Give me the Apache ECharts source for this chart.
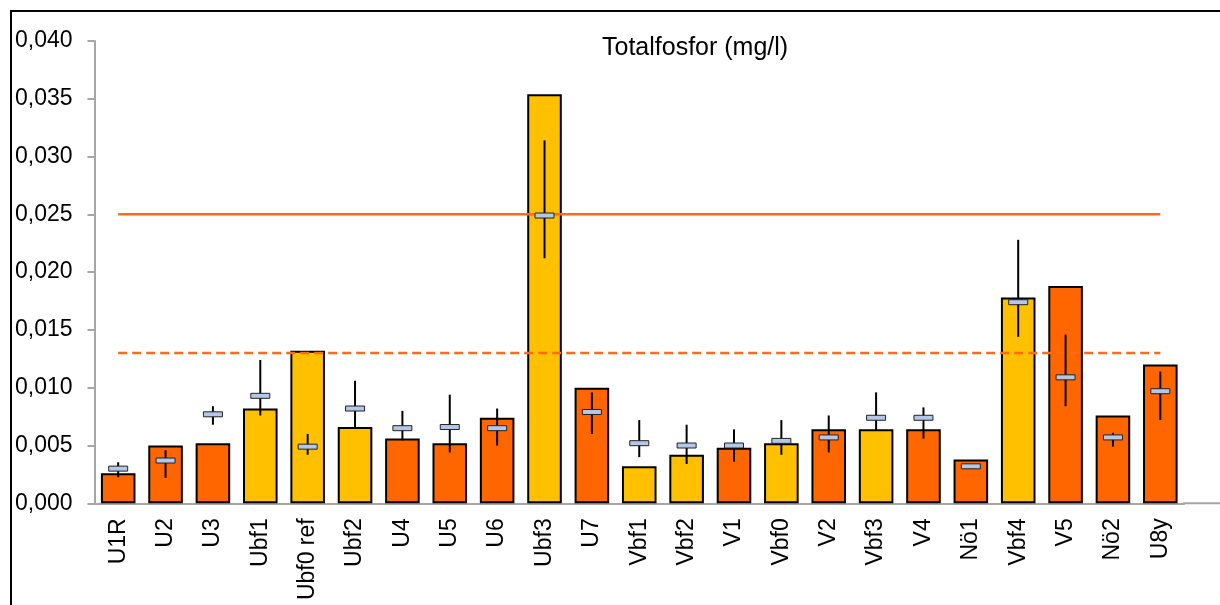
<!DOCTYPE html>
<html>
<head>
<meta charset="utf-8">
<script src="https://cdn.jsdelivr.net/npm/echarts@6/dist/echarts.min.js"></script>
<style>
html,body{margin:0;padding:0;background:#fff;}
#chart{width:1220px;height:605px;}
</style>
</head>
<body>
<div id="chart"></div>
<script>
// ---- data ----
const categories = ['U1R','U2','U3','Ubf1','Ubf0 ref','Ubf2','U4','U5','U6','Ubf3','U7','Vbf1','Vbf2','V1','Vbf0','V2','Vbf3','V4','Nö1','Vbf4','V5','Nö2','U8y'];
const siteGroup  = ['a','a','a','b','b','b','a','a','a','b','a','b','b','a','b','a','b','a','a','b','a','a','a'];
const barValues  = [0.0026,0.0050,0.0052,0.0082,0.0132,0.0066,0.0056,0.0052,0.0074,0.0354,0.0100,0.0032,0.0042,0.0048,0.0052,0.0064,0.0064,0.0064,0.0038,0.0178,0.0188,0.0076,0.0120];
const meanValues = [0.0030,0.0037,0.0077,0.0093,0.0049,0.0082,0.0065,0.0066,0.0065,0.0249,0.0079,0.0052,0.0050,0.0050,0.0054,0.0057,0.0074,0.0074,0.0032,0.0174,0.0109,0.0057,0.0097];
const errLow     = [0.00225,0.0022,0.0068,0.0076,0.0042,0.0065,0.00545,0.0044,0.0050,0.0212,0.0060,0.0040,0.0034,0.0036,0.0042,0.0044,0.0063,0.0056,0.0030,0.0144,0.0084,0.0049,0.0072];
const errHigh    = [0.00355,0.0046,0.0084,0.0124,0.0060,0.0106,0.0080,0.0094,0.0082,0.0314,0.0096,0.0072,0.0068,0.0064,0.0072,0.0076,0.0096,0.0083,0.0034,0.0228,0.0146,0.0061,0.0114];
const limitHigh  = 0.025;
const limitLow   = 0.013;
const yTicks = { min: 0, max: 0.040, interval: 0.005 };
const titleText = 'Totalfosfor (mg/l)';

// ---- styles ----
const groupColors = { a: '#FF6600', b: '#FFC000' };
const FONT = "'Liberation Sans', Arial, sans-serif";
const AXIS_GREY = '#A6A6A6';

const chart = echarts.init(document.getElementById('chart'), null, { renderer: 'canvas' });

const barData = barValues.map((v, i) => ({
  value: v,
  itemStyle: { color: groupColors[siteGroup[i]] }
}));
const errData = meanValues.map((m, i) => [i, m, errLow[i], errHigh[i]]);

const option = {
  animation: false,
  backgroundColor: '#fff',
  title: {
    text: titleText,
    left: 597, top: 31,
    textStyle: { fontFamily: FONT, fontSize: 25, fontWeight: 'normal', color: '#000' }
  },
  grid: { left: 94.5, right: 36, top: 41, bottom: 101.7 },
  xAxis: {
    type: 'category',
    data: categories,
    boundaryGap: true,
    axisLine: { lineStyle: { color: AXIS_GREY, width: 2 } },
    axisTick: { show: false },
    axisLabel: { rotate: 90, margin: 15, fontFamily: FONT, fontSize: 23, color: '#000', interval: 0 }
  },
  yAxis: {
    type: 'value',
    min: yTicks.min, max: yTicks.max, interval: yTicks.interval,
    splitLine: { show: false },
    axisLine: { show: true, lineStyle: { color: AXIS_GREY, width: 2 } },
    axisTick: { show: true, length: 7, lineStyle: { color: AXIS_GREY, width: 2 } },
    axisLabel: {
      margin: 22, fontFamily: FONT, fontSize: 23, color: '#000',
      formatter: v => v.toFixed(3).replace('.', ',')
    }
  },
  series: [
    {
      type: 'bar',
      data: barData,
      barWidth: '73%',
      itemStyle: { borderColor: '#000', borderWidth: 2 },
      z: 2
    },
    {
      type: 'line',
      data: categories.map(() => limitHigh),
      symbol: 'none',
      lineStyle: { color: '#FF6A13', width: 2.5, type: 'solid' },
      z: 3
    },
    {
      type: 'line',
      data: categories.map(() => limitLow),
      symbol: 'none',
      lineStyle: { color: '#FF6A13', width: 2.5, type: [9, 5] },
      z: 3
    },
    {
      type: 'custom',
      data: errData,
      z: 4,
      renderItem: function (params, api) {
        const c = api.coord([api.value(0), api.value(1)]);
        const lo = api.coord([api.value(0), api.value(2)]);
        const hi = api.coord([api.value(0), api.value(3)]);
        return {
          type: 'group',
          children: [
            { type: 'line', shape: { x1: c[0], y1: hi[1], x2: c[0], y2: lo[1] },
              style: { stroke: '#000', lineWidth: 2 } },
            { type: 'rect', shape: { x: c[0] - 9.5, y: c[1] - 2.5, width: 19, height: 5 },
              style: { fill: '#B4C7E7', stroke: '#222', lineWidth: 1 } }
          ]
        };
      }
    }
  ],
  graphic: [
    { type: 'rect', shape: { x: 11, y: 11, width: 1400, height: 800 },
      style: { fill: 'none', stroke: '#000', lineWidth: 2 }, silent: true, z: 10 },
    { type: 'line', shape: { x1: 1183, y1: 503.3, x2: 1220, y2: 503.3 },
      style: { stroke: AXIS_GREY, lineWidth: 2 }, silent: true }
  ]
};

chart.setOption(option);
</script>
</body>
</html>
